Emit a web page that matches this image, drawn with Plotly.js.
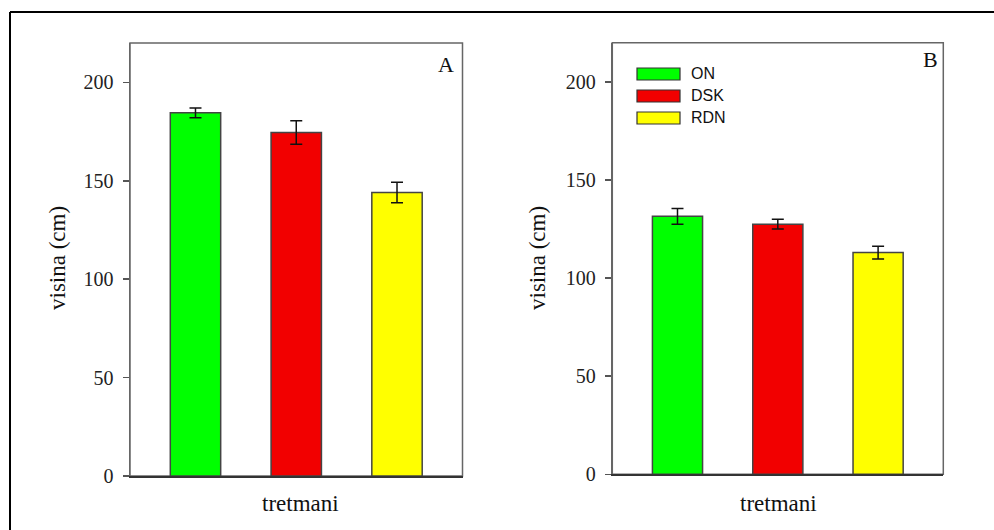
<!DOCTYPE html>
<html>
<head>
<meta charset="utf-8">
<script src="https://cdn.plot.ly/plotly-3.0.1.min.js"></script>
<style>
  html, body { margin: 0; padding: 0; background: #fff; }
  #chart { width: 994px; height: 530px; }
</style>
</head>
<body>
<div id="chart"></div>
<script>
// Treatments and their colours
const categories = ['ON', 'DSK', 'RDN'];
const barColors = ['#00ff00', '#f20000', '#ffff00'];

// Panel A: mean height (cm) and standard error
const heightA = [184.5, 174.5, 144];
const errorA = [2.5, 6, 5.2];

// Panel B: mean height (cm) and standard error
const heightB = [131.5, 127.5, 113];
const errorB = [4, 2.5, 3.3];

const yTicks = [0, 50, 100, 150, 200];
const yTitle = 'visina (cm)';
const xTitle = 'tretmani';
const panelLabels = ['A', 'B'];

const W = 994, H = 530;
const fx = px => px / W;
const fy = py => 1 - py / H;

const serif = 'Liberation Serif, Times New Roman, serif';
const sans = 'Liberation Sans, Arial, sans-serif';

function barTrace(values, errors, xa, ya) {
  return {
    type: 'bar',
    x: categories,
    y: values,
    xaxis: xa,
    yaxis: ya,
    width: 0.5,
    marker: { color: barColors, line: { color: '#444', width: 1.5 } },
    error_y: { type: 'data', array: errors, visible: true, color: '#111', thickness: 1.5, width: 6 },
    showlegend: false,
    hoverinfo: 'x+y'
  };
}

const data = [
  barTrace(heightA, errorA, 'x', 'y'),
  barTrace(heightB, errorB, 'x2', 'y2')
];

function xAxis(domain, anchor) {
  return {
    domain: domain, anchor: anchor, type: 'category',
    range: [-0.65, 2.65],
    showticklabels: false, ticks: '', showgrid: false, zeroline: false,
    showline: true, linecolor: '#333', linewidth: 2, fixedrange: true
  };
}
function yAxis(domain, anchor) {
  return {
    domain: domain, anchor: anchor,
    range: [0, 220], tickvals: yTicks, ticktext: yTicks.map(String),
    ticks: 'outside', ticklen: 6, tickwidth: 1.5, tickcolor: '#555',
    ticklabelstandoff: 5,
    tickfont: { family: serif, size: 20, color: '#222' },
    showgrid: false, zeroline: false,
    showline: true, linecolor: '#666', linewidth: 1.5, fixedrange: true
  };
}

const shapes = [
  // panel frames
  { type: 'rect', xref: 'x domain', yref: 'y domain', x0: 0, x1: 1, y0: 0, y1: 1,
    line: { color: '#666', width: 1.5 }, layer: 'below' },
  { type: 'rect', xref: 'x2 domain', yref: 'y2 domain', x0: 0, x1: 1, y0: 0, y1: 1,
    line: { color: '#666', width: 1.5 }, layer: 'below' },
  // outer figure border (top and left)
  { type: 'line', xref: 'paper', yref: 'paper', x0: fx(10), x1: 1.02, y0: fy(12), y1: fy(12),
    line: { color: '#000', width: 2 } },
  { type: 'line', xref: 'paper', yref: 'paper', x0: fx(10), x1: fx(10), y0: fy(12), y1: -0.02,
    line: { color: '#000', width: 2 } }
];

// legend swatches in panel B
const legendRows = [74, 96, 118];
categories.forEach((c, i) => {
  shapes.push({
    type: 'rect', xref: 'paper', yref: 'paper',
    x0: fx(637), x1: fx(680), y0: fy(legendRows[i] + 6), y1: fy(legendRows[i] - 6),
    fillcolor: barColors[i], line: { color: '#333', width: 1.2 }
  });
});

const annotations = [
  { text: yTitle, xref: 'paper', yref: 'paper', x: fx(57), y: fy(258), textangle: -90,
    showarrow: false, xanchor: 'center', yanchor: 'middle', font: { family: serif, size: 23, color: '#111' } },
  { text: yTitle, xref: 'paper', yref: 'paper', x: fx(537), y: fy(258), textangle: -90,
    showarrow: false, xanchor: 'center', yanchor: 'middle', font: { family: serif, size: 23, color: '#111' } },
  { text: xTitle, xref: 'paper', yref: 'paper', x: fx(300), y: fy(503),
    showarrow: false, xanchor: 'center', yanchor: 'middle', font: { family: serif, size: 23, color: '#111' } },
  { text: xTitle, xref: 'paper', yref: 'paper', x: fx(778), y: fy(503),
    showarrow: false, xanchor: 'center', yanchor: 'middle', font: { family: serif, size: 23, color: '#111' } },
  { text: panelLabels[0], xref: 'paper', yref: 'paper', x: fx(446), y: fy(64.5),
    showarrow: false, xanchor: 'center', yanchor: 'middle', font: { family: serif, size: 22, color: '#111' } },
  { text: panelLabels[1], xref: 'paper', yref: 'paper', x: fx(930), y: fy(59.5),
    showarrow: false, xanchor: 'center', yanchor: 'middle', font: { family: serif, size: 22, color: '#111' } }
];
categories.forEach((c, i) => {
  annotations.push({
    text: c, xref: 'paper', yref: 'paper', x: fx(689), y: fy(legendRows[i]),
    showarrow: false, xanchor: 'left', yanchor: 'middle',
    font: { family: sans, size: 16, color: '#111' }
  });
});

const layout = {
  width: W, height: H,
  margin: { l: 0, r: 0, t: 0, b: 0 },
  paper_bgcolor: '#fff', plot_bgcolor: '#fff',
  showlegend: false,
  xaxis: xAxis([fx(130), fx(462.5)], 'y'),
  yaxis: yAxis([fy(476), fy(43)], 'x'),
  xaxis2: xAxis([fx(612.3), fx(943.3)], 'y2'),
  yaxis2: yAxis([fy(474.3), fy(42.7)], 'x2'),
  shapes: shapes,
  annotations: annotations
};

Plotly.newPlot('chart', data, layout, { displayModeBar: false, staticPlot: true });
</script>
</body>
</html>
